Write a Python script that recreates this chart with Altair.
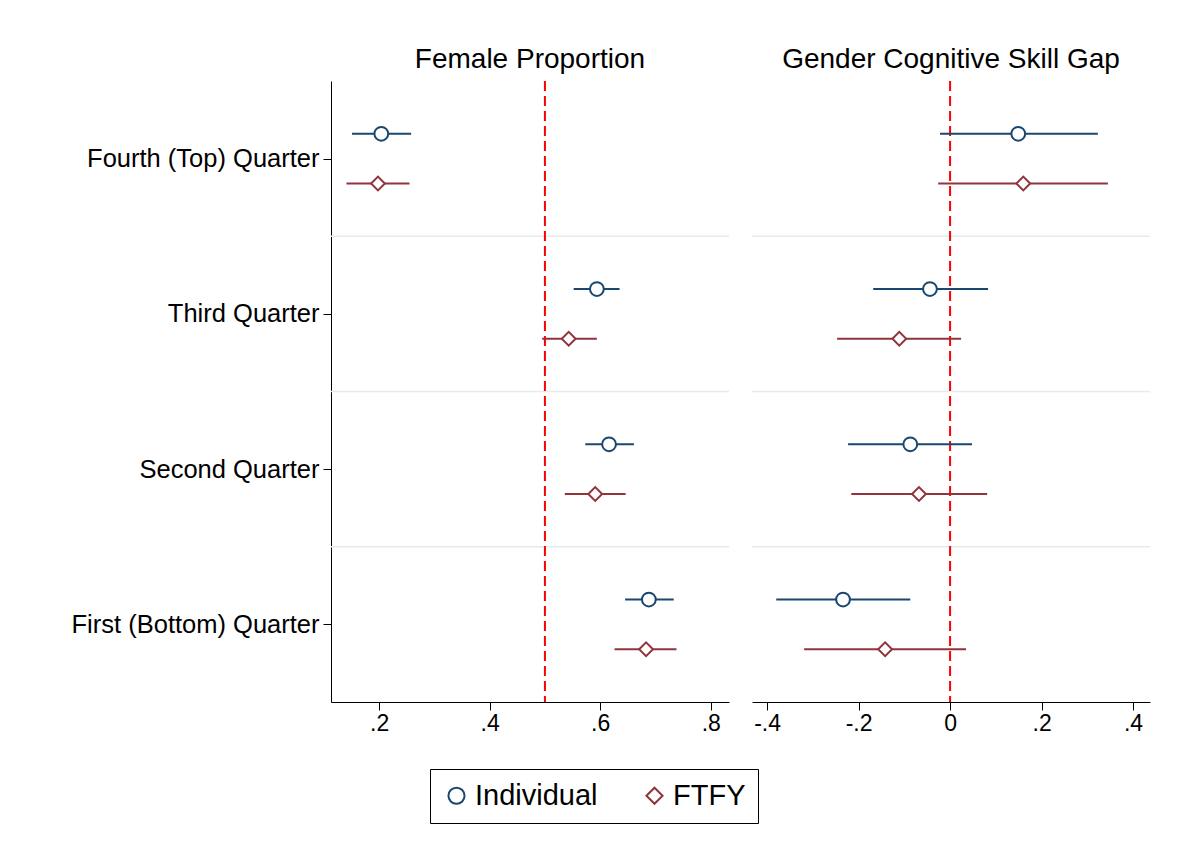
import altair as alt
import pandas as pd

quarters = ["Fourth (Top) Quarter", "Third Quarter", "Second Quarter", "First (Bottom) Quarter"]
ypos = [4, 3, 2, 1]
series = ["Individual", "FTFY"]

# Female proportion: estimate, low, high  (Individual then FTFY per quarter)
fp_ind = [0.204, 0.594, 0.616, 0.688]
fp_ind_lo = [0.151, 0.552, 0.573, 0.645]
fp_ind_hi = [0.258, 0.635, 0.661, 0.733]
fp_ftfy = [0.198, 0.543, 0.591, 0.683]
fp_ftfy_lo = [0.141, 0.495, 0.536, 0.626]
fp_ftfy_hi = [0.255, 0.594, 0.646, 0.738]

# Gender cognitive skill gap
gg_ind = [0.149, -0.044, -0.087, -0.234]
gg_ind_lo = [-0.022, -0.168, -0.223, -0.380]
gg_ind_hi = [0.323, 0.083, 0.048, -0.087]
gg_ftfy = [0.160, -0.111, -0.068, -0.142]
gg_ftfy_lo = [-0.026, -0.247, -0.216, -0.319]
gg_ftfy_hi = [0.345, 0.024, 0.081, 0.035]

def make_df(ind, ind_lo, ind_hi, ftfy, ftfy_lo, ftfy_hi):
    rows = []
    for i, q in enumerate(quarters):
        rows.append(dict(quarter=q, series="Individual", y=ypos[i] + 0.16,
                         est=ind[i], lo=ind_lo[i], hi=ind_hi[i]))
        rows.append(dict(quarter=q, series="FTFY", y=ypos[i] - 0.16,
                         est=ftfy[i], lo=ftfy_lo[i], hi=ftfy_hi[i]))
    return pd.DataFrame(rows)

color = alt.Color("series:N", scale=alt.Scale(domain=series, range=["#1a476f", "#90353b"]),
                  legend=alt.Legend(title=None, orient="none", legendX=99, legendY=688,
                                    direction="horizontal",
                                    labelFontSize=29, symbolSize=260, symbolStrokeWidth=2,
                                    strokeColor="black", padding=12, columnPadding=42,
                                    labelFont="Liberation Sans", labelColor="black"))
shape = alt.Shape("series:N", scale=alt.Scale(domain=series, range=["circle", "diamond"]))

label_expr = ("datum.value == 0 ? '0' : (datum.value < 0 ? '-' : '') + "
              "replace(format(abs(datum.value), '.1f'), '0.', '.')")
seps = pd.DataFrame({"y": [1.5, 2.5, 3.5]})

def panel(df, title, xdom, ticks, ref, show_y):
    xscale = alt.Scale(domain=xdom, nice=False, zero=False)
    yscale = alt.Scale(domain=[0.5, 4.5], nice=False, zero=False)
    xaxis = alt.Axis(values=ticks, labelExpr=label_expr, title=None, grid=False,
                     labelFontSize=23, domainColor="black", tickColor="black",
                     labelColor="black", tickSize=8, labelFont="Liberation Sans")
    if show_y:
        yaxis = alt.Axis(values=ypos,
                         labelExpr="['','First (Bottom) Quarter','Second Quarter','Third Quarter','Fourth (Top) Quarter'][datum.value]",
                         title=None, grid=False, labelFontSize=25.5, domainColor="black",
                         tickColor="black", labelColor="black", tickSize=8, labelPadding=4,
                         labelLimit=0, labelFont="Liberation Sans")
    else:
        yaxis = alt.Axis(labels=False, ticks=False, domain=False, grid=False, title=None)
    base = alt.Chart(df)
    sep = alt.Chart(seps).mark_rule(color="#e3ecee", strokeWidth=1.5).encode(
        y=alt.Y("y:Q", scale=yscale, axis=yaxis))
    refl = alt.Chart(pd.DataFrame({"x": [ref]})).mark_rule(
        color="red", strokeDash=[10, 5], strokeWidth=2).encode(
        x=alt.X("x:Q", scale=xscale, axis=xaxis))
    bars = base.mark_rule(strokeWidth=2).encode(
        x=alt.X("lo:Q"), x2="hi:Q", y=alt.Y("y:Q"), color=color)
    pts = base.mark_point(size=190, strokeWidth=2, filled=False, fill="white", fillOpacity=1).encode(
        x="est:Q", y="y:Q", color=color, shape=shape)
    return alt.layer(sep, refl, bars, pts).properties(
        width=398, height=621,
        title=alt.TitleParams(title, fontSize=28, fontWeight="normal", font="Liberation Sans",
                              color="black", offset=6))

left = panel(make_df(fp_ind, fp_ind_lo, fp_ind_hi, fp_ftfy, fp_ftfy_lo, fp_ftfy_hi),
             "Female Proportion", [0.113, 0.833], [0.2, 0.4, 0.6, 0.8], 0.5, True)
right = panel(make_df(gg_ind, gg_ind_lo, gg_ind_hi, gg_ftfy, gg_ftfy_lo, gg_ftfy_hi),
              "Gender Cognitive Skill Gap", [-0.433, 0.437], [-0.4, -0.2, 0, 0.2, 0.4], 0, False)

chart = alt.hconcat(left, right, spacing=21).resolve_scale(
    x="independent").properties(
    padding={"left": 63, "top": 38, "right": 5, "bottom": 5}
).configure_view(strokeWidth=0, stroke=None)

chart.save("out.html", embed_options={"renderer": "svg", "actions": False})
